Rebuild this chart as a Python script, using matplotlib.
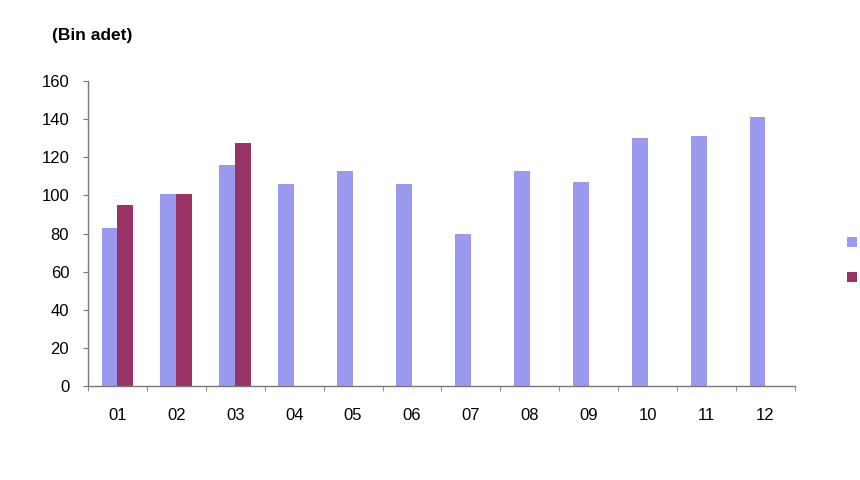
import numpy as np
import matplotlib
matplotlib.use('Agg')
import matplotlib.pyplot as plt

plt.rcParams['font.family'] = ['Liberation Sans', 'DejaVu Sans']

months = ['01', '02', '03', '04', '05', '06', '07', '08', '09', '10', '11', '12']
prev_year = [83, 101, 116, 106, 113, 106, 80, 113, 107, 130, 131, 141]
curr_year = [95, 101, 127.5, np.nan, np.nan, np.nan, np.nan, np.nan, np.nan, np.nan, np.nan, np.nan]
y_ticks = [0, 20, 40, 60, 80, 100, 120, 140, 160]

light = '#9999EE'
dark = '#993366'

fig = plt.figure(figsize=(8.6, 4.8), dpi=100)
ax = fig.add_axes([0.1023, 0.196, 0.822, 0.635])

x = np.arange(len(months))
w = 0.27
b1 = ax.bar(x - w / 2, prev_year, width=w, color=light)
b2 = ax.bar(x + w / 2, curr_year, width=w, color=dark)

ax.set_xlim(-0.5, len(months) - 0.5)
ax.set_ylim(0, 160)
ax.set_yticks(y_ticks)
ax.set_xticks(x)
ax.set_xticklabels(months)
ax.set_xticks(np.arange(len(months) + 1) - 0.5, minor=True)
ax.tick_params(axis='x', which='major', length=0, pad=16, labelsize=12)
ax.tick_params(axis='x', which='minor', length=3.5, direction='out', color='#777777')
ax.tick_params(axis='y', length=3.5, direction='out', color='#777777', labelsize=12, pad=10)

for s in ['top', 'right']:
    ax.spines[s].set_visible(False)
for s in ['left', 'bottom']:
    ax.spines[s].set_color('#777777')
    ax.spines[s].set_linewidth(1.0)

fig.text(0.06, 0.927, '(Bin adet)', fontsize=12.5, fontweight='bold', va='center')

# legend text falls off the right edge in the original, only the keys show
fig.legend([b1, b2], ['', ''], loc='center left', bbox_to_anchor=(0.985, 0.456),
           frameon=False, borderpad=0, borderaxespad=0, handletextpad=0,
           handlelength=0.6, handleheight=0.55, labelspacing=1.2, fontsize=12)

fig.savefig('out.png', dpi=100)
